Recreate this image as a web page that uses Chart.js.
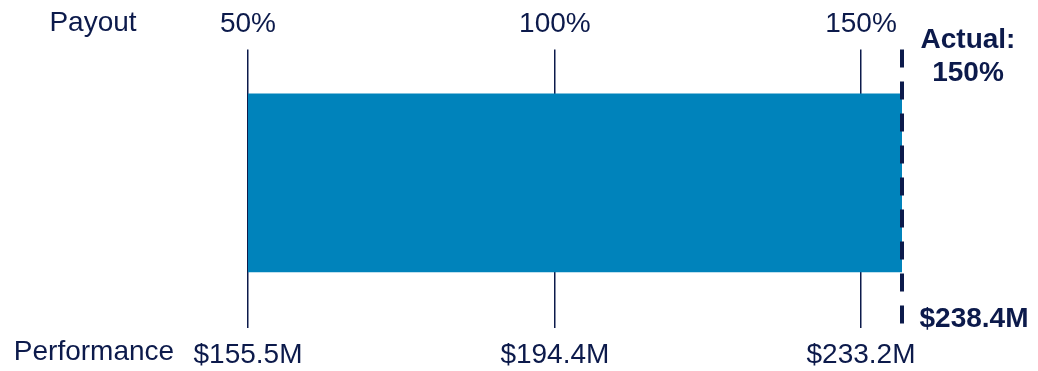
<!doctype html>
<html lang="en">
  <head>
    <title>Payout vs performance</title>
    <style>
      body { margin: 0; background: #fff; }
      .container { width: 1038px; height: 371px; }
    </style>
  </head>
  <body>
    <div class="container">
      <canvas id="myChart"></canvas>
    </div>

    <script src="https://cdn.jsdelivr.net/npm/chart.js"></script>
    <script>
      // data
      const categories = ['Payout']
      const perfTicks = [155.5, 194.4, 233.2]
      const perfLabels = ['$155.5M', '$194.4M', '$233.2M']
      const payoutLabels = ['50%', '100%', '150%']
      const barRange = [155.5, 238.4]
      const actualPerf = 238.4
      const actualPerfLabel = '$238.4M'
      const actualPayoutLabel = '150%'

      const navy = '#0c1a4b'
      const fontFamily = "'Liberation Sans', Arial, sans-serif"

      const setTicks = function (scale) {
        scale.ticks = perfTicks.map(v => ({ value: v }))
      }

      // dashed "actual" line and side labels
      const markerPlugin = {
        id: 'marker',
        afterDatasetsDraw(chart) {
          const ctx = chart.ctx
          const area = chart.chartArea
          const x = chart.scales.x.getPixelForValue(actualPerf)
          ctx.save()
          ctx.strokeStyle = navy
          ctx.lineWidth = 4
          ctx.setLineDash([18, 14])
          ctx.beginPath()
          ctx.moveTo(x, area.top)
          ctx.lineTo(x, area.bottom)
          ctx.stroke()
          ctx.setLineDash([])

          ctx.fillStyle = navy
          ctx.textAlign = 'center'
          ctx.textBaseline = 'middle'
          ctx.font = 'bold 28px ' + fontFamily
          ctx.fillText('Actual:', x + 66, area.top - 9)
          ctx.fillText(actualPayoutLabel, x + 66, area.top + 24)
          ctx.fillText(actualPerfLabel, x + 72, area.bottom - 9)

          ctx.font = '28px ' + fontFamily
          ctx.fillText('Payout', 93, 23)
          ctx.fillText('Performance', 94, 352)
          ctx.restore()
        }
      }

      const data = {
        labels: categories,
        datasets: [{
          data: [{ x: barRange, y: 0 }],
          backgroundColor: '#0083bb',
          borderWidth: 0,
          barThickness: 178
        }]
      }

      const config = {
        type: 'bar',
        data,
        options: {
          indexAxis: 'y',
          responsive: false,
          animation: false,
          layout: {
            padding: { left: 248, right: 136, top: -2, bottom: -11 }
          },
          plugins: {
            legend: { display: false },
            tooltip: { enabled: false }
          },
          scales: {
            x: {
              type: 'linear',
              position: 'bottom',
              min: barRange[0],
              max: actualPerf,
              afterBuildTicks: setTicks,
              border: { display: false },
              grid: { color: navy, lineWidth: 1.5, drawTicks: false },
              ticks: {
                padding: 10,
                color: navy,
                font: { family: fontFamily, size: 28 },
                maxRotation: 0,
                callback: (v, i) => perfLabels[i]
              }
            },
            x2: {
              type: 'linear',
              position: 'top',
              min: barRange[0],
              max: actualPerf,
              afterBuildTicks: setTicks,
              border: { display: false },
              grid: { display: false, drawTicks: false },
              ticks: {
                padding: 9,
                color: navy,
                font: { family: fontFamily, size: 28 },
                maxRotation: 0,
                callback: (v, i) => payoutLabels[i]
              }
            },
            // bar sits a little above the middle of the grid lines
            y: { type: 'linear', display: false, min: -144, max: 130 }
          }
        },
        plugins: [markerPlugin]
      }

      const canvas = document.getElementById('myChart')
      canvas.width = 1038
      canvas.height = 371
      var myChart = new Chart(canvas, config)
    </script>
  </body>
</html>
